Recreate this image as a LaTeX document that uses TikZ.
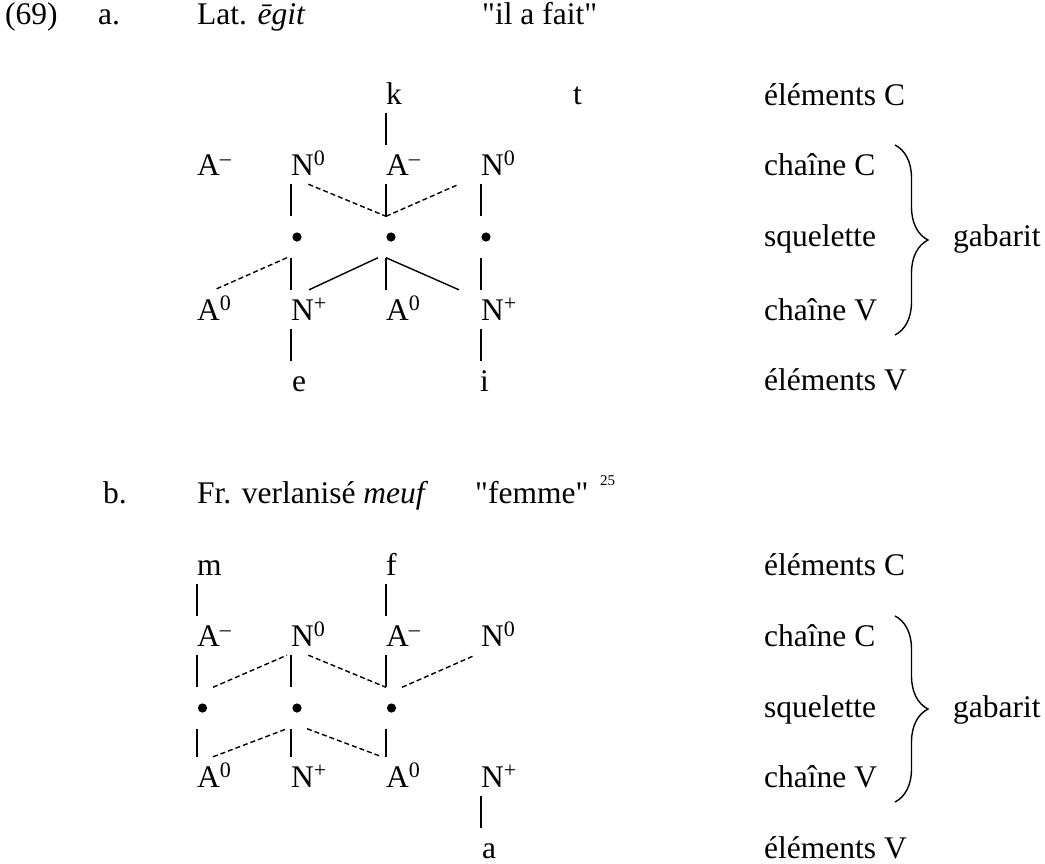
\documentclass[tikz,border=0pt]{standalone}
\usepackage{fontspec}
\setmainfont{Liberation Serif}[Ligatures=TeXOff]
\usetikzlibrary{decorations.pathreplacing,calc}
\tikzset{
  txt/.style={inner sep=0pt, anchor=base west},
  seg/.style={txt, text height=30pt, text depth=9pt},
  dotn/.style={circle, minimum size=41pt, inner sep=0pt,
    path picture={\fill[black] (path picture bounding box.center) circle (4.6pt);}},
  ln/.style={line width=1.4pt},
  dsh/.style={line width=1.4pt, dash pattern=on 5pt off 3pt},
  gbrace/.style={line width=1.4pt, decorate, decoration={brace, amplitude=33pt, aspect=0.5}},
  small/.style={inner sep=0pt, anchor=base west, font=\fontsize{15}{18}\selectfont}
}
\newcommand{\mneg}{\textsuperscript{–}}
\newcommand{\mzero}{\textsuperscript{0}}
\newcommand{\mplus}{\textsuperscript{+}}
\begin{document}
\begin{tikzpicture}[x=1pt, y=-1pt, font=\fontsize{31.5}{38}\selectfont]
\useasboundingbox (0,0) rectangle (1045,863);
\fill[white] (0,0) rectangle (1045,863);

% ---------- header a ----------
\node[txt] (num) at (5,24) {(69)};
\node[txt] (la) at (98,24) {a.};
\node[txt] (ta) at (197,24) {Lat. \textit{ēgit}};
\node[txt] (ga) at (482,24) {"il a fait"};

% ---------- diagram a ----------
\node[seg] (ak) at (386,104) {k};
\node[seg] (at) at (573,104) {t};
\node[seg] (aC1) at (197,175) {A\mneg};
\node[seg] (aC2) at (291,175) {N\mzero};
\node[seg] (aC3) at (386,175) {A\mneg};
\node[seg] (aC4) at (481,175) {N\mzero};
\node[dotn] (aD2) at (297,237) {};
\node[dotn] (aD3) at (391,237) {};
\node[dotn] (aD4) at (486,237) {};
\node[seg] (aV1) at (197,320) {A\mzero};
\node[seg] (aV2) at (291,320) {N\mplus};
\node[seg] (aV3) at (386,320) {A\mzero};
\node[seg] (aV4) at (481,320) {N\mplus};
\node[seg] (ae) at (292,391) {e};
\node[seg] (ai) at (480,391) {i};

\coordinate (aT2) at (aC2.south west |- aD2.north);
\coordinate (aT3) at (aC3.south west |- aD3.north);
\coordinate (aT4) at (aC4.south west |- aD4.north);
\coordinate (aB2) at (aD2.south -| aV2.north west);
\coordinate (aB3) at (aD3.south -| aV3.north west);
\coordinate (aB4) at (aD4.south -| aV4.north west);

\draw[ln] (ak.south west) -- (aC3.north west);
\draw[ln] (aC2.south west) -- (aT2);
\draw[ln] (aC3.south west) -- (aT3);
\draw[ln] (aC4.south west) -- (aT4);
\draw[ln] (aB2) -- (aV2.north west);
\draw[ln] (aB3) -- (aV3.north west);
\draw[ln] (aB4) -- (aV4.north west);
\draw[ln] (aV2.south west) -- (aV2.south west |- ae.north);
\draw[ln] (aV4.south west) -- (aV4.south west |- ai.north);
\draw[dsh] (aC2.south) -- (aT3);
\draw[dsh] (aT3) -- ($(aC4.south west)+(-22,0)$);
\draw[dsh] ($(aB2)+(-4,0)$) -- (aV1.north);
\draw[ln] (aV2.north) -- ($(aB3)+(-8,0)$);
\draw[ln] (aB3) -- ($(aV4.north west)+(-22,0)$);

% labels a
\node[txt] (aeC) at (764,105) {éléments C};
\node[txt] (acC) at (764,175) {chaîne C};
\node[txt] (asq) at (764,246) {squelette};
\node[txt] (acV) at (764,320) {chaîne V};
\node[txt] (aeV) at (764,390) {éléments V};
\node[txt] (agab) at (953,246) {gabarit};
\coordinate (abr1) at (895,145);
\coordinate (abr2) at (895,335);
\draw[gbrace] (abr1) -- (abr2);

% ---------- header b ----------
\node[txt] (lb) at (103,503) {b.};
\node[txt] (tb) at (197,503) {Fr. verlanisé \textit{meuf}};
\node[txt] (gb) at (475,503) {"femme"};
\node[small] (fn) at (600,485) {25};

% ---------- diagram b ----------
\node[seg] (bm) at (197,575) {m};
\node[seg] (bf) at (386,575) {f};
\node[seg] (bC1) at (197,646) {A\mneg};
\node[seg] (bC2) at (291,646) {N\mzero};
\node[seg] (bC3) at (386,646) {A\mneg};
\node[seg] (bC4) at (481,646) {N\mzero};
\node[dotn] (bD1) at (202.5,708) {};
\node[dotn] (bD2) at (297,708) {};
\node[dotn] (bD3) at (391.5,708) {};
\node[seg] (bV1) at (197,787) {A\mzero};
\node[seg] (bV2) at (291,787) {N\mplus};
\node[seg] (bV3) at (386,787) {A\mzero};
\node[seg] (bV4) at (481,787) {N\mplus};
\node[seg] (ba) at (482,858) {a};

\coordinate (bT1) at (bC1.south west |- bD1.north);
\coordinate (bT2) at (bC2.south west |- bD2.north);
\coordinate (bT3) at (bC3.south west |- bD3.north);
\coordinate (bB1) at (bD1.south -| bV1.north west);
\coordinate (bB2) at (bD2.south -| bV2.north west);
\coordinate (bB3) at (bD3.south -| bV3.north west);

\draw[ln] (bm.south west) -- (bC1.north west);
\draw[ln] (bf.south west) -- (bC3.north west);
\draw[ln] (bC1.south west) -- (bT1);
\draw[ln] (bC2.south west) -- (bT2);
\draw[ln] (bC3.south west) -- (bT3);
\draw[ln] (bB1) -- (bV1.north west);
\draw[ln] (bB2) -- (bV2.north west);
\draw[ln] (bB3) -- (bV3.north west);
\draw[ln] (bV4.south west) -- (bV4.south west |- ba.north);
\draw[dsh] ($(bT1)+(16,0)$) -- ($(bC2.south west)+(-4,0)$);
\draw[dsh] (bC2.south) -- (bT3);
\draw[dsh] ($(bT3)+(16,0)$) -- ($(bC4.south west)+(-6,0)$);
\draw[dsh] ($(bV1.north west)+(16,0)$) -- ($(bB2)+(-4,0)$);
\draw[dsh] ($(bB2)+(16,0)$) -- ($(bV3.north west)+(-4,0)$);

% labels b
\node[txt] (beC) at (764,575) {éléments C};
\node[txt] (bcC) at (764,646) {chaîne C};
\node[txt] (bsq) at (764,717) {squelette};
\node[txt] (bcV) at (764,787) {chaîne V};
\node[txt] (beV) at (764,858) {éléments V};
\node[txt] (bgab) at (953,717) {gabarit};
\coordinate (bbr1) at (895,616);
\coordinate (bbr2) at (895,802);
\draw[gbrace] (bbr1) -- (bbr2);
\end{tikzpicture}
\end{document}
